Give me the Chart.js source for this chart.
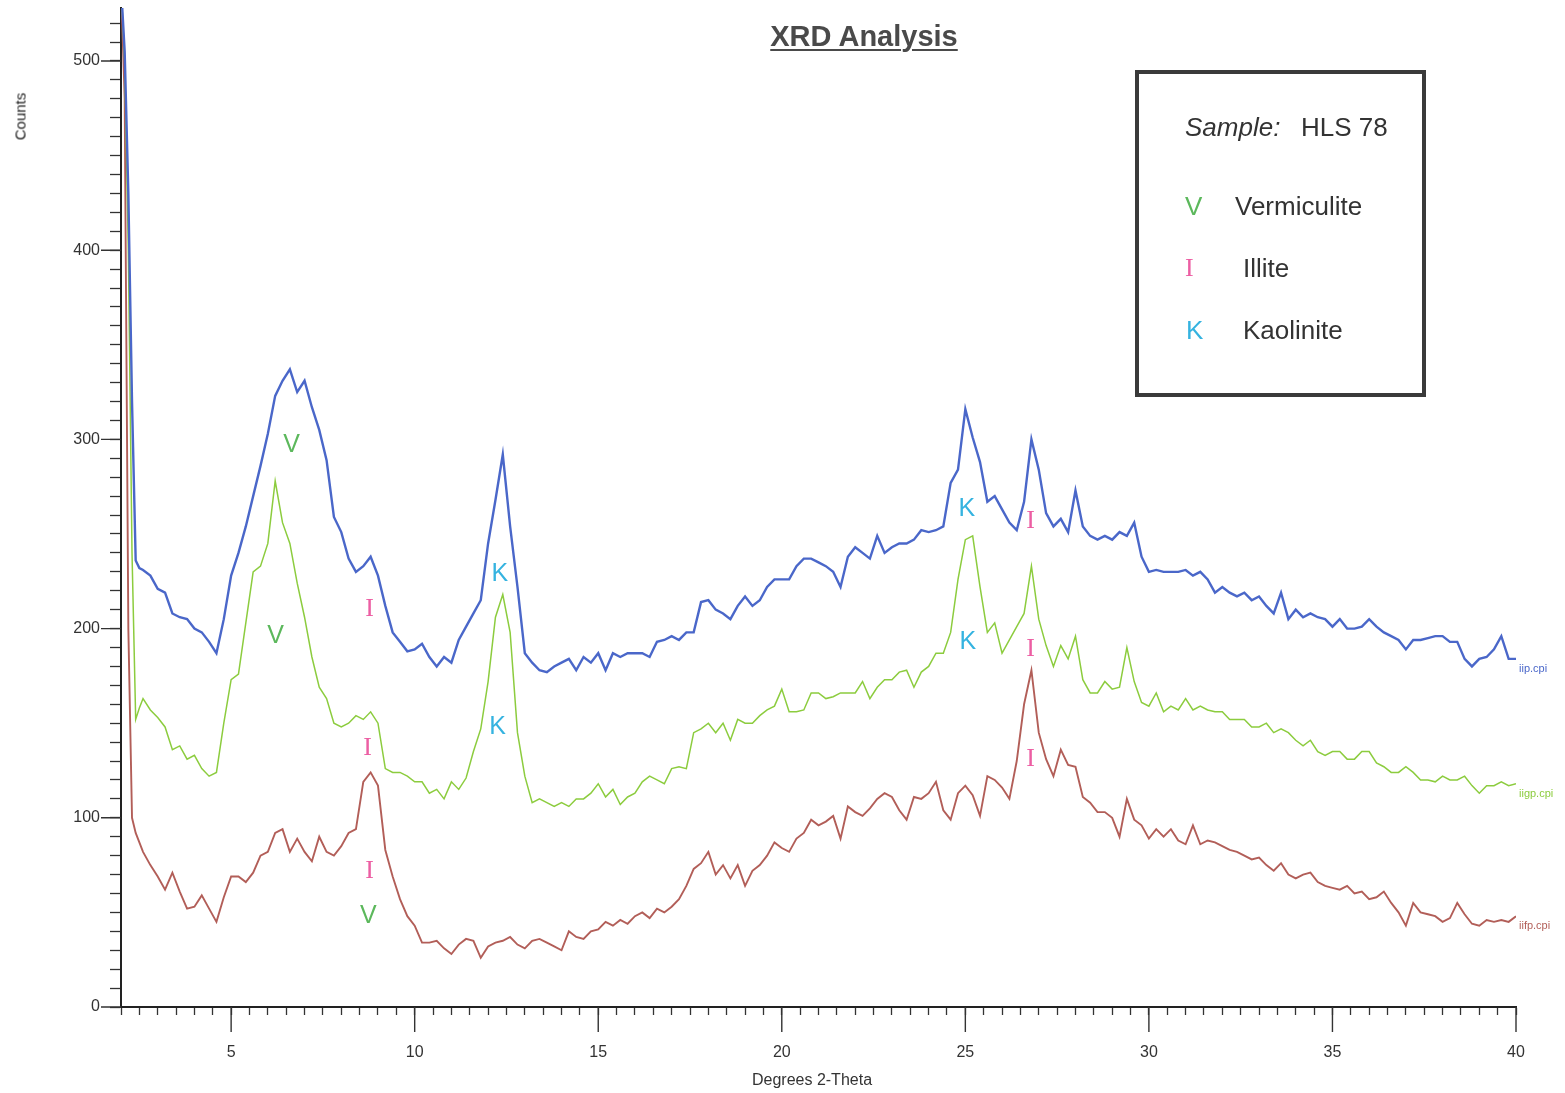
<!DOCTYPE html>
<html>
<head>
<meta charset="utf-8">
<title>XRD Analysis</title>
<script src="https://cdn.jsdelivr.net/npm/chart.js@4.4.1/dist/chart.umd.min.js"></script>
<style>
  body { margin: 0; background: #fff; font-family: "Liberation Sans", Arial, sans-serif; }
  #wrap { position: relative; width: 1565px; height: 1093px; overflow: hidden; }
  #grafico { position: absolute; left: 0; top: 0; }
  .txt { position: absolute; white-space: nowrap; color: #333; }
  #titulo { left: 714px; width: 300px; top: 20px; text-align: center; font-weight: bold; font-size: 29px;
            text-decoration: underline; text-decoration-thickness: 2px; text-underline-offset: 3px; color: #4a4a4a; }
  #counts { left: -10px; top: 108px; width: 60px; text-align: center; font-size: 15px; color: #222; transform: rotate(-90deg); }
  #xtitulo { left: 712px; width: 200px; top: 1071px; text-align: center; font-size: 16px; }
  #caja { position: absolute; left: 1135px; top: 70px; width: 283px; height: 319px; border: 4px solid #3a3a3a; }
  .ley { font-size: 26px; line-height: 26px; }
</style>
</head>
<body>
<div id="wrap">
  <canvas id="grafico" width="1565" height="1093"></canvas>
  <div class="txt" id="titulo">XRD Analysis</div>
  <div class="txt" id="counts">Counts</div>
  <div class="txt" id="xtitulo">Degrees 2-Theta</div>
  <div id="caja"></div>
  <div class="txt ley" style="left:1185px; top:114px;"><i>Sample:</i></div>
  <div class="txt ley" style="left:1301px; top:114px;">HLS 78</div>
  <div class="txt ley" style="left:1185px; top:193px; color:#5cb85c;">V</div>
  <div class="txt ley" style="left:1235px; top:193px;">Vermiculite</div>
  <div class="txt ley" style="left:1185px; top:255px; color:#ec5ea3; font-family:'Liberation Serif', serif;">I</div>
  <div class="txt ley" style="left:1243px; top:255px;">Illite</div>
  <div class="txt ley" style="left:1186px; top:317px; color:#35b3e0;">K</div>
  <div class="txt ley" style="left:1243px; top:317px;">Kaolinite</div>
</div>
<script>
// posiciones 2-theta (grados)
const twoTheta = [
  2.0, 2.1, 2.2, 2.3, 2.4, 2.5, 2.6, 2.8,
  3.0, 3.2, 3.4, 3.6, 3.8,
  4.0, 4.2, 4.4, 4.6, 4.8,
  5.0, 5.2, 5.4, 5.6, 5.8,
  6.0, 6.2, 6.4, 6.6, 6.8,
  7.0, 7.2, 7.4, 7.6, 7.8,
  8.0, 8.2, 8.4, 8.6, 8.8,
  9.0, 9.2, 9.4, 9.6, 9.8,
  10.0, 10.2, 10.4, 10.6, 10.8,
  11.0, 11.2, 11.4, 11.6, 11.8,
  12.0, 12.2, 12.4, 12.6, 12.8,
  13.0, 13.2, 13.4, 13.6, 13.8,
  14.0, 14.2, 14.4, 14.6, 14.8,
  15.0, 15.2, 15.4, 15.6, 15.8,
  16.0, 16.2, 16.4, 16.6, 16.8,
  17.0, 17.2, 17.4, 17.6, 17.8,
  18.0, 18.2, 18.4, 18.6, 18.8,
  19.0, 19.2, 19.4, 19.6, 19.8,
  20.0, 20.2, 20.4, 20.6, 20.8,
  21.0, 21.2, 21.4, 21.6, 21.8,
  22.0, 22.2, 22.4, 22.6, 22.8,
  23.0, 23.2, 23.4, 23.6, 23.8,
  24.0, 24.2, 24.4, 24.6, 24.8,
  25.0, 25.2, 25.4, 25.6, 25.8,
  26.0, 26.2, 26.4, 26.6, 26.8,
  27.0, 27.2, 27.4, 27.6, 27.8,
  28.0, 28.2, 28.4, 28.6, 28.8,
  29.0, 29.2, 29.4, 29.6, 29.8,
  30.0, 30.2, 30.4, 30.6, 30.8,
  31.0, 31.2, 31.4, 31.6, 31.8,
  32.0, 32.2, 32.4, 32.6, 32.8,
  33.0, 33.2, 33.4, 33.6, 33.8,
  34.0, 34.2, 34.4, 34.6, 34.8,
  35.0, 35.2, 35.4, 35.6, 35.8,
  36.0, 36.2, 36.4, 36.6, 36.8,
  37.0, 37.2, 37.4, 37.6, 37.8,
  38.0, 38.2, 38.4, 38.6, 38.8,
  39.0, 39.2, 39.4, 39.6, 39.8,
  40.0
];

// iip.cpi (azul)
const iip = [
  540, 505, 430, 320, 236, 232, 231, 228,
  221, 219, 208, 206, 205,
  200, 198, 193, 187, 205,
  228, 240, 254, 270, 286,
  303, 323, 331, 337, 325,
  331, 317, 305, 289, 259,
  251, 237, 230, 233, 238,
  228, 212, 198, 193, 188,
  189, 192, 185, 180, 185,
  182, 194, 201, 208, 215,
  245, 268, 292, 254, 222,
  187, 182, 178, 177, 180,
  182, 184, 178, 185, 182,
  187, 178, 187, 185, 187,
  187, 187, 185, 193, 194,
  196, 194, 198, 198, 214,
  215, 210, 208, 205, 212,
  217, 212, 215, 222, 226,
  226, 226, 233, 237, 237,
  235, 233, 230, 222, 238,
  243, 240, 237, 249, 240,
  243, 245, 245, 247, 252,
  251, 252, 254, 277, 284,
  316, 301, 288, 267, 270,
  263, 256, 252, 267, 300,
  284, 261, 254, 258, 251,
  273, 254, 249, 247, 249,
  247, 251, 249, 256, 238,
  230, 231, 230, 230, 230,
  231, 228, 230, 226, 219,
  222, 219, 217, 219, 215,
  217, 212, 208, 219, 205,
  210, 206, 208, 206, 205,
  201, 205, 200, 200, 201,
  205, 201, 198, 196, 194,
  189, 194, 194, 195, 196,
  196, 193, 193, 184, 180,
  184, 185, 189, 196, 184,
  184
];

// iigp.cpi (verde)
const iigp = [
  540, 500, 400, 240, 152, 158, 163, 157,
  153, 148, 136, 138, 131,
  133, 126, 122, 124, 150,
  173, 176, 203, 230, 233,
  245, 278, 256, 245, 224,
  206, 185, 169, 163, 150,
  148, 150, 154, 152, 156,
  150, 126, 124, 124, 122,
  119, 119, 113, 115, 110,
  119, 115, 121, 135, 147,
  172, 206, 218, 198, 145,
  122, 108, 110, 108, 106,
  108, 106, 110, 110, 113,
  118, 111, 115, 107, 111,
  113, 119, 122, 120, 118,
  126, 127, 126, 145, 147,
  150, 145, 150, 141, 152,
  150, 150, 154, 157, 159,
  168, 156, 156, 157, 166,
  166, 163, 164, 166, 166,
  166, 172, 163, 169, 173,
  173, 177, 178, 169, 177,
  180, 187, 187, 198, 226,
  247, 249, 222, 198, 203,
  187, 194, 201, 208, 233,
  205, 191, 180, 191, 184,
  196, 173, 166, 166, 172,
  168, 169, 190, 172, 161,
  159, 166, 156, 159, 157,
  163, 157, 159, 157, 156,
  156, 152, 152, 152, 148,
  148, 150, 145, 147, 145,
  141, 138, 141, 135, 133,
  135, 135, 131, 131, 135,
  135, 129, 127, 124, 124,
  127, 124, 120, 120, 119,
  122, 120, 120, 122, 117,
  113, 117, 117, 119, 117,
  118
];

// iifp.cpi (marron)
const iifp = [
  540, 480, 200, 100, 92, 87, 82, 75,
  69, 62, 71, 61, 52,
  53, 59, 52, 45, 58,
  69, 69, 66, 71, 80,
  82, 92, 94, 82, 89,
  82, 77, 90, 82, 80,
  85, 92, 94, 119, 124,
  117, 83, 69, 57, 48,
  43, 34, 34, 35, 31,
  28, 33, 36, 35, 26,
  32, 34, 35, 37, 33,
  31, 35, 36, 34, 32,
  30, 40, 37, 36, 40,
  41, 45, 43, 46, 44,
  48, 50, 47, 52, 50,
  53, 57, 64, 73, 76,
  82, 70, 75, 68, 75,
  64, 72, 75, 80, 87,
  84, 82, 89, 92, 99,
  96, 98, 101, 89, 106,
  103, 101, 105, 110, 113,
  111, 104, 99, 111, 110,
  113, 119, 104, 99, 113,
  117, 112, 101, 122, 120,
  116, 110, 130, 160, 178,
  145, 131, 122, 136, 128,
  127, 111, 108, 103, 103,
  100, 90, 110, 99, 96,
  89, 94, 90, 94, 88,
  86, 96, 86, 88, 87,
  85, 83, 82, 80, 78,
  79, 75, 72, 76, 70,
  68, 70, 71, 66, 64,
  63, 62, 64, 60, 61,
  57, 58, 61, 55, 50,
  43, 55, 50, 49, 48,
  45, 47, 55, 49, 44,
  43, 46, 45, 46, 45,
  48
];

const xMajorTicks = [5, 10, 15, 20, 25, 30, 35, 40];
const yMajorTicks = [0, 100, 200, 300, 400, 500];

// letras de fases sobre los picos
const markerText = ['V', 'I', 'K', 'K', 'I', 'V', 'I', 'K', 'K', 'I', 'I', 'V', 'I'];
const markerX = [6.65, 8.77, 12.32, 25.04, 26.78, 6.21, 8.72, 12.26, 25.07, 26.78, 8.77, 8.74, 26.78];
const markerY = [297, 210, 229, 263, 257, 196, 137, 148, 193, 189, 72, 48, 131];
const phaseColors = { V: '#5cb85c', I: '#ec5ea3', K: '#35b3e0' };

const fuente = '"Liberation Sans", Arial, sans-serif';

const dibujosExtra = {
  id: 'dibujosExtra',
  afterDraw(chart) {
    const { ctx, chartArea, scales } = chart;
    const sx = scales.x, sy = scales.y;
    ctx.save();

    ctx.strokeStyle = '#333';
    ctx.lineWidth = 1.4;
    ctx.beginPath();
    xMajorTicks.forEach(v => {
      const px = sx.getPixelForValue(v);
      ctx.moveTo(px, chartArea.bottom);
      ctx.lineTo(px, chartArea.bottom + 25);
    });
    yMajorTicks.forEach(v => {
      const py = sy.getPixelForValue(v);
      ctx.moveTo(chartArea.left - 20, py);
      ctx.lineTo(chartArea.left, py);
    });
    ctx.stroke();

    ctx.textAlign = 'center';
    ctx.textBaseline = 'middle';
    markerText.forEach((t, i) => {
      ctx.font = t === 'I' ? '26px "Liberation Serif", serif' : '25px ' + fuente;
      ctx.fillStyle = phaseColors[t];
      ctx.fillText(t, sx.getPixelForValue(markerX[i]), sy.getPixelForValue(markerY[i]));
    });

    ctx.textAlign = 'left';
    ctx.font = '11px ' + fuente;
    chart.data.datasets.forEach(ds => {
      const ultimo = ds.data[ds.data.length - 1];
      ctx.fillStyle = ds.borderColor;
      ctx.fillText(ds.label, sx.getPixelForValue(ultimo.x) + 3, sy.getPixelForValue(ultimo.y) + 10);
    });
    ctx.restore();
  }
};

const ctx = document.getElementById('grafico').getContext('2d');
new Chart(ctx, {
  type: 'line',
  data: {
    datasets: [
      { label: 'iip.cpi', data: twoTheta.map((x, i) => ({ x, y: iip[i] })), borderColor: '#4a67c9', borderWidth: 2.4 },
      { label: 'iigp.cpi', data: twoTheta.map((x, i) => ({ x, y: iigp[i] })), borderColor: '#8ccc3e', borderWidth: 1.5 },
      { label: 'iifp.cpi', data: twoTheta.map((x, i) => ({ x, y: iifp[i] })), borderColor: '#b25e58', borderWidth: 1.9 }
    ]
  },
  options: {
    responsive: false,
    animation: false,
    devicePixelRatio: 1,
    layout: { padding: { top: 8, right: 49, left: 0, bottom: 0 } },
    elements: { point: { radius: 0 }, line: { tension: 0 } },
    plugins: { legend: { display: false }, tooltip: { enabled: false } },
    scales: {
      x: {
        type: 'linear',
        min: 2,
        max: 40,
        afterFit: s => { s.height = 86; s.paddingLeft = 0; s.paddingRight = 0; },
        grid: { drawOnChartArea: false, drawTicks: true, tickLength: 8, tickColor: '#333', tickWidth: 1.3 },
        border: { display: true, color: '#222', width: 2 },
        ticks: {
          stepSize: 0.5,
          autoSkip: false,
          maxRotation: 0,
          padding: 28,
          color: '#333',
          font: { family: fuente, size: 16 },
          callback: v => (Math.abs(v % 5) < 1e-6 && v > 2 ? v : '')
        }
      },
      y: {
        min: 0,
        max: 528,
        afterFit: s => { s.width = 121; s.paddingTop = 0; s.paddingBottom = 0; },
        grid: { drawOnChartArea: false, drawTicks: true, tickLength: 11, tickColor: '#333', tickWidth: 1.3 },
        border: { display: true, color: '#222', width: 2 },
        ticks: {
          stepSize: 10,
          includeBounds: false,
          autoSkip: false,
          padding: 10,
          color: '#333',
          font: { family: fuente, size: 16 },
          callback: v => (v % 100 === 0 ? v : '')
        }
      }
    }
  },
  plugins: [dibujosExtra]
});
</script>
</body>
</html>
